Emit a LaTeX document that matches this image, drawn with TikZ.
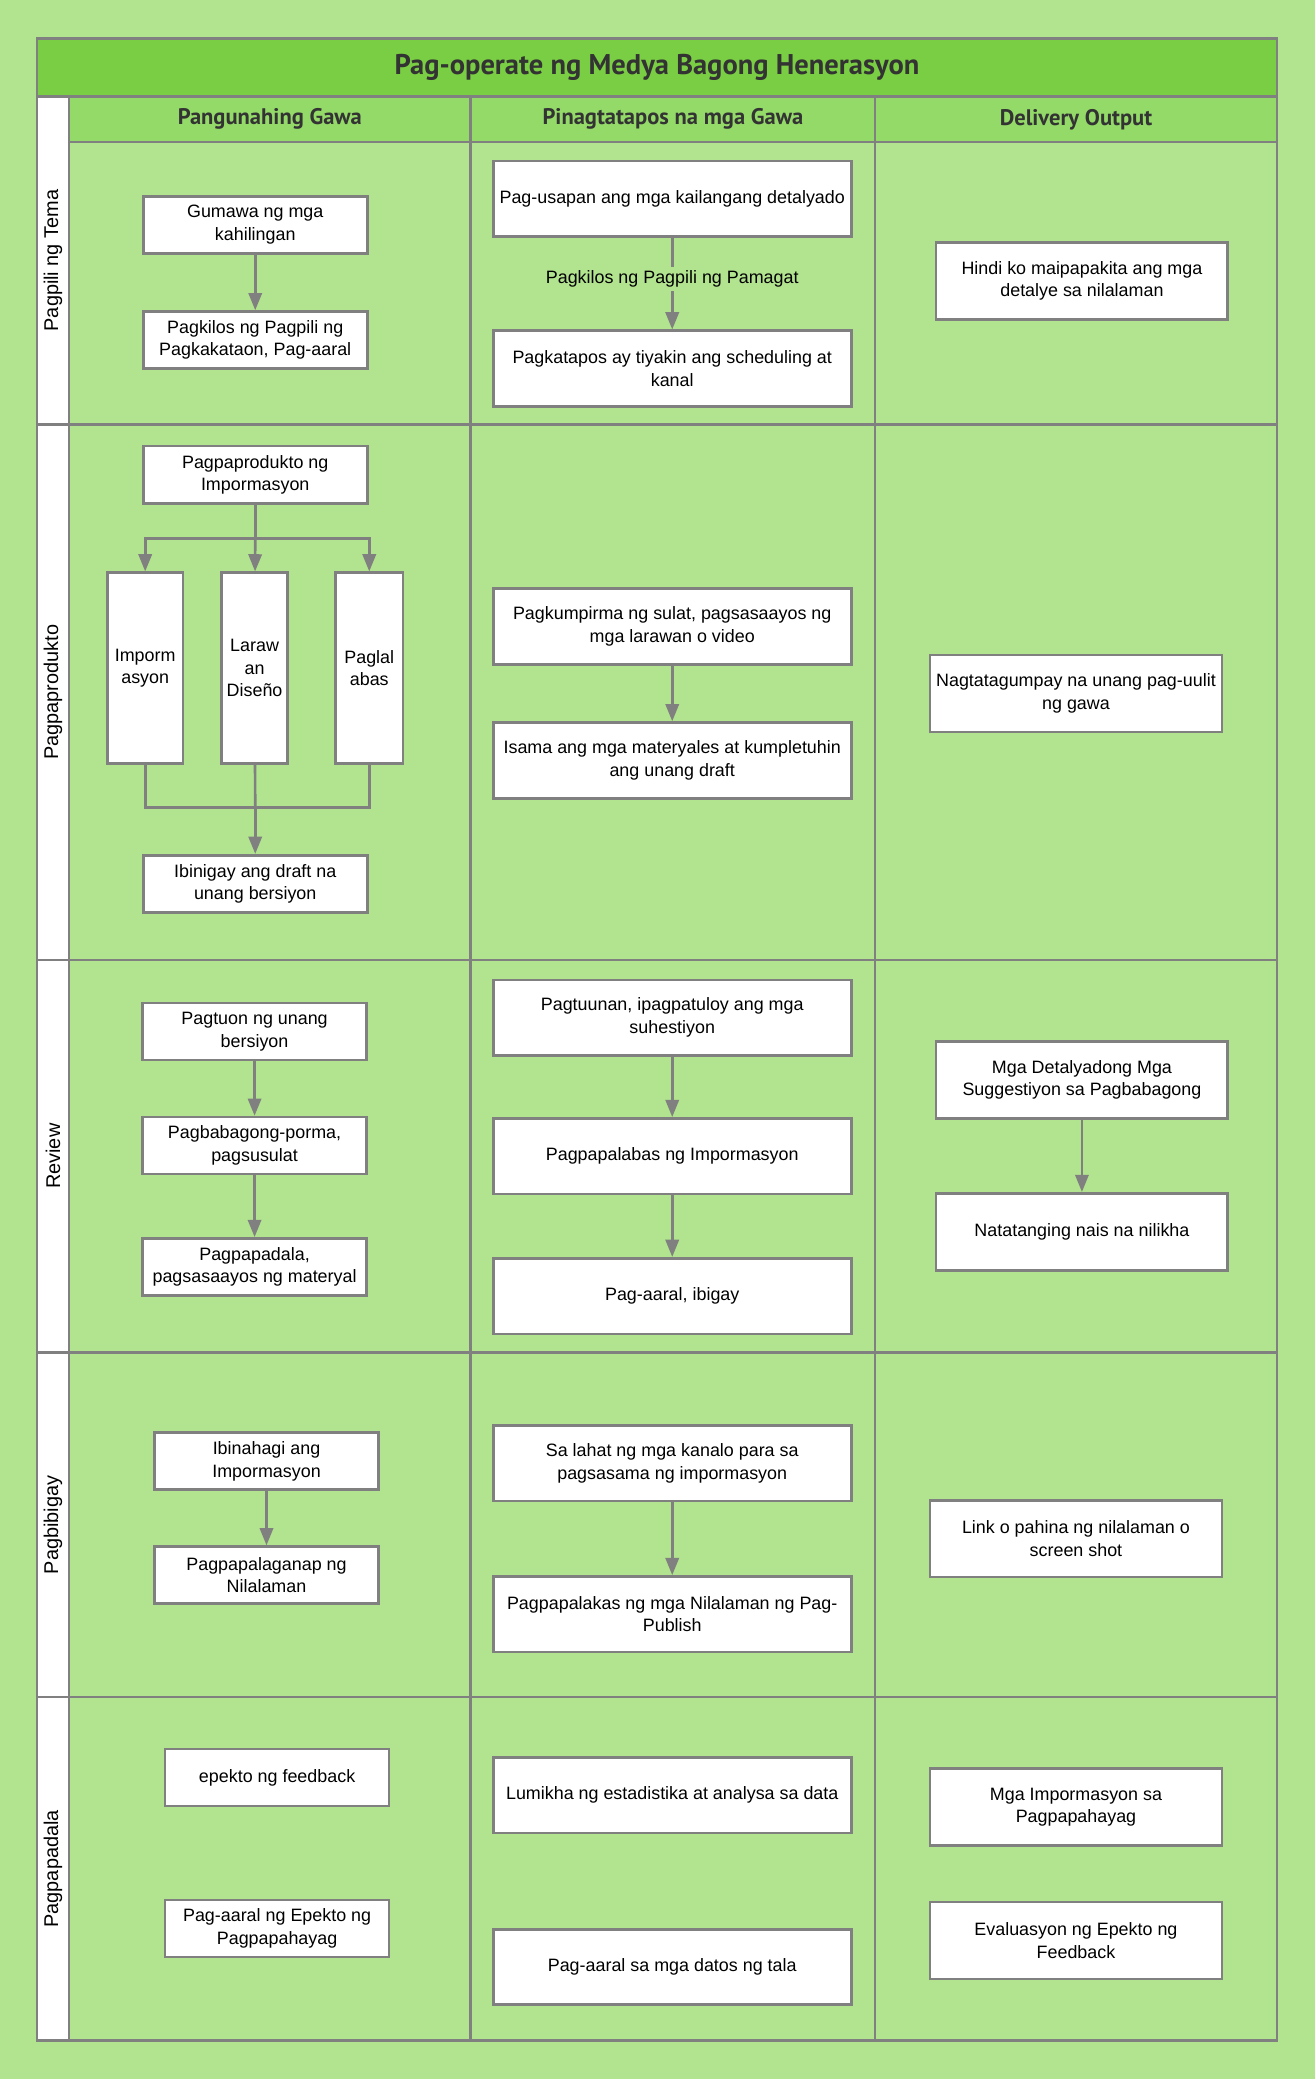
\documentclass[tikz,border=0pt]{standalone}
\usepackage{fontspec}
\setmainfont{Liberation Sans}
\newfontfamily\headfont{PT Sans}
\usetikzlibrary{arrows.meta}

\definecolor{pagebg}{HTML}{B2E38E}
\definecolor{titlegreen}{HTML}{7ACE43}
\definecolor{headgreen}{HTML}{94DA68}
\definecolor{rulegray}{HTML}{808080}
\definecolor{inkgray}{HTML}{333333}

\begin{document}
\begin{tikzpicture}[
    x=1pt, y=-1pt,
    font=\fontsize{13.5}{17}\selectfont,
    stepbox/.style={draw=rulegray, line width=2pt, fill=white, align=center, inner sep=2pt},
    leftbox/.style={stepbox, minimum width=169pt, minimum height=43pt},
    midbox/.style={stepbox, minimum width=270pt, minimum height=57pt},
    outbox/.style={stepbox, minimum width=220pt, minimum height=58pt},
    tallbox/.style={stepbox, minimum height=144pt, inner sep=0pt},
    lanelabel/.style={rotate=90, font=\fontsize{15}{18}\selectfont},
    colhead/.style={font=\headfont\bfseries\fontsize{17}{20}\selectfont, text=inkgray},
    rule/.style={draw=rulegray, line width=2pt},
    flow/.style={draw=rulegray, line width=2pt},
    arrow/.style={flow, -{Triangle[length=13pt, width=10pt]}}
]

% --- page and swimlane frame ---
\fill[pagebg] (0,0) rectangle (992,1568);
\draw[rule, fill=titlegreen] (28,29) rectangle (963,73);
\draw[rule, fill=headgreen] (52,73) rectangle (963,107);
\foreach \ya/\yb in {73/320, 320/724, 724/1020, 1020/1280, 1280/1539}
    \draw[rule, fill=white] (28,\ya) rectangle (52,\yb);
\foreach \y in {320, 724, 1020, 1280}
    \draw[rule] (52,\y) -- (963,\y);
\foreach \x in {355, 660}
    \draw[rule] (\x,73) -- (\x,1539);
\draw[rule] (28,29) rectangle (963,1539);

\node[font=\headfont\bfseries\fontsize{21.5}{24}\selectfont, text=inkgray] (title) at (495.5,51) {Pag-operate ng Medya Bagong Henerasyon};

\node[colhead] (headmain) at (203.5,90) {Pangunahing Gawa};
\node[colhead] (headend)  at (507.5,90) {Pinagtatapos na mga Gawa};
\node[colhead] (headout)  at (811.5,90) {Delivery Output};

\node[lanelabel] (lanetema)    at (40,196.5) {Pagpili ng Tema};
\node[lanelabel] (laneprod)    at (40,522)   {Pagpaprodukto};
\node[lanelabel] (lanereview)  at (40,872)   {Review};
\node[lanelabel] (lanegive)    at (40,1150)  {Pagbibigay};
\node[lanelabel] (lanesend)    at (40,1409.5) {Pagpapadala};

% --- lane 1: Pagpili ng Tema ---
\node[leftbox] (request) at (192.5,169.5) {Gumawa ng mga\\kahilingan};
\node[leftbox] (chance)  at (192.5,256.5) {Pagkilos ng Pagpili ng\\Pagkakataon, Pag-aaral};
\node[midbox] (discuss)  at (507,150) {Pag-usapan ang mga kailangang detalyado};
\node[midbox] (schedule) at (507,278) {Pagkatapos ay tiyakin ang scheduling at\\kanal};
\node[outbox] (nodetail) at (816,212) {Hindi ko maipapakita ang mga\\detalye sa nilalaman};

% --- lane 2: Pagpaprodukto ---
\node[leftbox] (produce) at (192.5,358) {Pagpaprodukto ng\\Impormasyon};
\node[tallbox, minimum width=57pt] (info)    at (109.5,504) {Imporm\\asyon};
\node[tallbox, minimum width=50pt] (design)  at (192,504)   {Laraw\\an\\Diseño};
\node[tallbox, minimum width=51pt] (publish) at (278.5,504) {Paglal\\abas};
\node[leftbox] (draft) at (192.5,666.5) {Ibinigay ang draft na\\unang bersiyon};
\coordinate (split) at (192.5,406);
\coordinate (merge) at (192.5,609);
\node[midbox] (confirm)  at (507,472.5) {Pagkumpirma ng sulat, pagsasaayos ng\\mga larawan o video};
\node[midbox] (assemble) at (507,573.5) {Isama ang mga materyales at kumpletuhin\\ang unang draft};
\node[outbox] (success)  at (811.5,523) {Nagtatagumpay na unang pag-uulit\\ng gawa};

% --- lane 3: Review ---
\node[leftbox] (focus)  at (192,778)   {Pagtuon ng unang\\bersiyon};
\node[leftbox] (reform) at (192,864)   {Pagbabagong-porma,\\pagsusulat};
\node[leftbox] (send)   at (192,955.5) {Pagpapadala,\\pagsasaayos ng materyal};
\node[midbox] (suggest) at (507,767.5) {Pagtuunan, ipagpatuloy ang mga\\suhestiyon};
\node[midbox] (release) at (507,872)   {Pagpapalabas ng Impormasyon};
\node[midbox] (study)   at (507,977.5) {Pag-aaral, ibigay};
\node[outbox] (detail)  at (816,814.5) {Mga Detalyadong Mga\\Suggestiyon sa Pagbabagong};
\node[outbox] (unique)  at (816,929)   {Natatanging nais na nilikha};

% --- lane 4: Pagbibigay ---
\node[leftbox] (shared) at (201,1102) {Ibinahagi ang\\Impormasyon};
\node[leftbox] (spread) at (201,1188) {Pagpapalaganap ng\\Nilalaman};
\node[midbox] (channels) at (507,1103.5) {Sa lahat ng mga kanalo para sa\\pagsasama ng impormasyon};
\node[midbox] (boost)    at (507,1217.5) {Pagpapalakas ng mga Nilalaman ng Pag-\\Publish};
\node[outbox] (link)     at (811.5,1160.5) {Link o pahina ng nilalaman o\\screen shot};

% --- lane 5: Pagpapadala ---
\node[leftbox] (feedback) at (209,1340.5) {epekto ng feedback};
\node[leftbox] (effect)   at (209,1454.5) {Pag-aaral ng Epekto ng\\Pagpapahayag};
\node[midbox] (stats)    at (507,1354)   {Lumikha ng estadistika at analysa sa data};
\node[midbox] (records)  at (507,1483.5) {Pag-aaral sa mga datos ng tala};
\node[outbox] (inform)   at (811.5,1363) {Mga Impormasyon sa\\Pagpapahayag};
\node[outbox] (evaluate) at (811.5,1463.5) {Evaluasyon ng Epekto ng\\Feedback};

% arrows
\draw[arrow] (request) -- (chance);
\draw[arrow] (discuss) -- node[pos=0.45, fill=pagebg, inner sep=3pt, font=\fontsize{13.5}{16}\selectfont] (pickname) {Pagkilos ng Pagpili ng Pamagat} (schedule);

\draw[flow] (produce) -- (split);
\draw[arrow] (split) -| (info);
\draw[arrow] (split) -- (design);
\draw[arrow] (split) -| (publish);
\draw[flow] (info) |- (merge);
\draw[flow] (publish) |- (merge);
\draw[flow] (design) -- (merge);
\draw[arrow] (merge) -- (draft);
\draw[arrow] (confirm) -- (assemble);

\draw[arrow] (focus) -- (reform);
\draw[arrow] (reform) -- (send);
\draw[arrow] (suggest) -- (release);
\draw[arrow] (release) -- (study);
\draw[arrow] (detail) -- (unique);

\draw[arrow] (shared) -- (spread);
\draw[arrow] (channels) -- (boost);

\end{tikzpicture}
\end{document}
